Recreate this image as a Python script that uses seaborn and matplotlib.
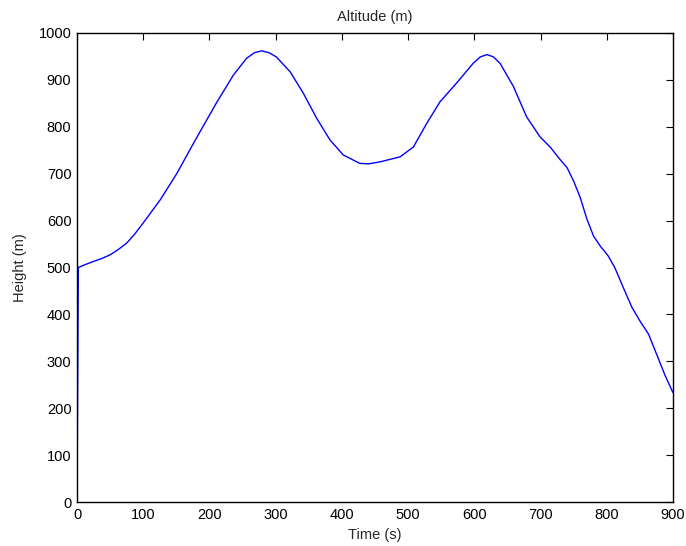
import matplotlib
matplotlib.use("Agg")
import matplotlib.pyplot as plt
import seaborn as sns
import pandas as pd

time_s = [0, 2, 12, 25, 37, 50, 62, 75, 87, 100, 126, 151, 176, 186, 211, 236, 256, 268,
          279, 290, 301, 322, 342, 362, 382, 402, 427, 440, 457, 488, 508, 528, 548, 573,
          598, 609, 619, 629, 639, 659, 679, 699, 715, 729, 740, 750, 760, 770, 780, 790,
          802, 812, 825, 838, 850, 863, 875, 888, 900]
height_m = [0, 500, 506, 513, 519, 527, 538, 552, 571, 595, 645, 701, 765, 790, 852, 910,
            946, 958, 962, 958, 949, 917, 871, 818, 772, 740, 722, 721, 725, 736, 757, 807,
            853, 893, 935, 949, 954, 949, 935, 886, 821, 779, 756, 731, 713, 684, 649, 603,
            567, 546, 525, 500, 457, 415, 386, 358, 316, 270, 233]

df = pd.DataFrame({"Time (s)": time_s, "Height (m)": height_m})

sns.set_style("white")
plt.rcParams["font.family"] = ["Liberation Sans", "DejaVu Sans"]

fig = plt.figure(figsize=(6.86, 5.46), dpi=100)
ax = fig.add_axes([77/686, 44/546, 596/686, 469/546])
sns.lineplot(data=df, x="Time (s)", y="Height (m)", sort=False, estimator=None,
             color="#0000ff", linewidth=1.0, ax=ax)

ax.set_xlim(0, 900)
ax.set_ylim(0, 1000)
ax.set_xticks(range(0, 901, 100))
ax.set_yticks(range(0, 1001, 100))
ax.tick_params(direction="in", top=True, right=True, length=5, width=0.8,
               labelsize=10.5, colors="black", pad=4)
for s in ax.spines.values():
    s.set_visible(True)
    s.set_color("black")
    s.set_linewidth(1.0)
ax.set_title("Altitude (m)", fontsize=10.5, pad=9)
ax.set_xlabel("Time (s)", fontsize=10.5, labelpad=5)
ax.set_ylabel("Height (m)", fontsize=10.5, labelpad=8)

fig.savefig("out.png", dpi=100)
